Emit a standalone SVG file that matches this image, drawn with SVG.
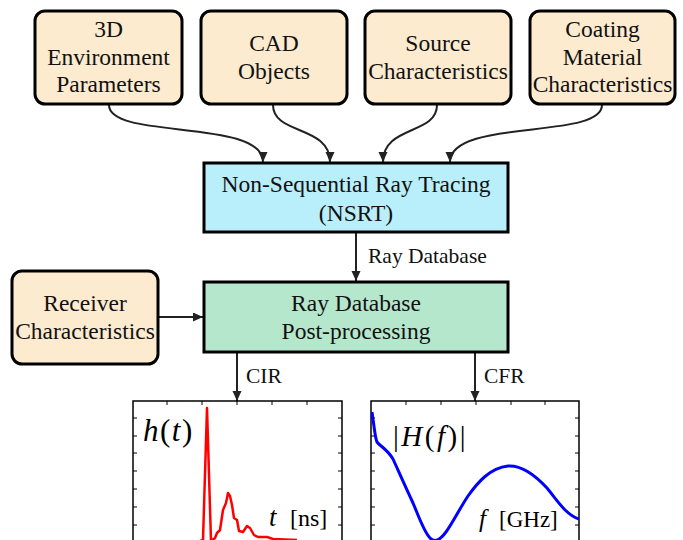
<svg xmlns="http://www.w3.org/2000/svg" width="683" height="540" viewBox="0 0 683 540">
<defs>
<style>
.in{fill:#fdebd0;stroke:#000;stroke-width:3}
.nsrt{fill:#b9eefb;stroke:#000;stroke-width:3}
.post{fill:#b5e7cd;stroke:#000;stroke-width:3}
.t{font-family:"Liberation Serif","Times New Roman",serif;font-size:23.5px;fill:#111;text-anchor:middle}
.lbl{font-family:"Liberation Serif","Times New Roman",serif;font-size:21.5px;fill:#111}
.con{fill:none;stroke:#222;stroke-width:2}
.frame{fill:none;stroke:#000;stroke-width:1.5}
.tick{stroke:#000;stroke-width:1}
.math{font-family:"Liberation Serif","Times New Roman",serif;fill:#000}
</style>
<marker id="ah" markerUnits="userSpaceOnUse" markerWidth="10" markerHeight="10" refX="10" refY="4.5" orient="auto">
<path d="M0,0 L10,4.5 L0,9 z" fill="#222"/>
</marker>
<clipPath id="c1"><rect x="133" y="401" width="209" height="139"/></clipPath>
<clipPath id="c2"><rect x="371" y="401" width="208" height="139"/></clipPath>
</defs>
<rect width="683" height="540" fill="#fff"/>

<g id="connectors">
<path class="con" d="M109,105 C109,140 263,118 263,162" marker-end="url(#ah)"/>
<path class="con" d="M273,105 C273,135 330,125 330,162" marker-end="url(#ah)"/>
<path class="con" d="M437,105 C437,135 383,125 383,162" marker-end="url(#ah)"/>
<path class="con" d="M602,105 C602,140 450,118 450,162" marker-end="url(#ah)"/>
<path class="con" d="M356,233 L356,281" marker-end="url(#ah)"/>
<path class="con" d="M158,317 L203,317" marker-end="url(#ah)"/>
<path class="con" d="M237,353 L237,401" marker-end="url(#ah)"/>
<path class="con" d="M475,353 L475,401" marker-end="url(#ah)"/>
<text class="lbl" x="368" y="263">Ray Database</text>
<text class="lbl" x="246" y="383">CIR</text>
<text class="lbl" x="484" y="383">CFR</text>
</g>

<g id="env">
<rect class="in" x="35" y="11" width="147" height="93" rx="10"/>
<text class="t" x="108.5" y="37">3D</text>
<text class="t" x="108.5" y="65">Environment</text>
<text class="t" x="108.5" y="92">Parameters</text>
</g>
<g id="cad">
<rect class="in" x="201" y="11" width="146" height="93" rx="10"/>
<text class="t" x="274" y="51">CAD</text>
<text class="t" x="274" y="79">Objects</text>
</g>
<g id="source">
<rect class="in" x="365" y="11" width="146" height="93" rx="10"/>
<text class="t" x="438" y="51">Source</text>
<text class="t" x="438" y="79">Characteristics</text>
</g>
<g id="coating">
<rect class="in" x="530" y="11" width="145" height="93" rx="10"/>
<text class="t" x="602.5" y="37">Coating</text>
<text class="t" x="602.5" y="65">Material</text>
<text class="t" x="602.5" y="92">Characteristics</text>
</g>
<g id="nsrt">
<rect class="nsrt" x="204" y="163" width="304" height="69"/>
<text class="t" x="356" y="192">Non-Sequential Ray Tracing</text>
<text class="t" x="356" y="221">(NSRT)</text>
</g>
<g id="receiver">
<rect class="in" x="12" y="271" width="146" height="93" rx="10"/>
<text class="t" x="85" y="311">Receiver</text>
<text class="t" x="85" y="339">Characteristics</text>
</g>
<g id="post">
<rect class="post" x="204" y="282" width="304" height="70"/>
<text class="t" x="356" y="311">Ray Database</text>
<text class="t" x="356" y="339">Post-processing</text>
</g>

<g id="cir-plot">
<path class="frame" d="M133,541 L133,401 L342,401 L342,541"/>
<path class="tick" d="M167,401v4M202,401v4M237,401v4M272,401v4M307,401v4
M133,418h4M133,436h4M133,453h4M133,471h4M133,489h4M133,507h4M133,525h4
M342,418h-4M342,436h-4M342,453h-4M342,471h-4M342,489h-4M342,507h-4M342,525h-4"/>
<g clip-path="url(#c1)">
<polyline fill="none" stroke="#ff0000" stroke-width="2.5" stroke-linejoin="round" points="200,541 203,540 207,408 211,541 215,538 217,533 220,530 223,510 226,503 228,493 230,496 232,505 234,518 237,520 239,531 243,532 247,526 250,528 254,535 258,537 267,537 273,539 297,540"/>
</g>
<text class="math" x="143" y="441" font-size="31" letter-spacing="1.5"><tspan font-style="italic">h</tspan>(<tspan font-style="italic">t</tspan>)</text>
<text class="math" x="269" y="526" font-size="27" font-style="italic">t</text>
<text class="math" x="290" y="526" font-size="24">[ns]</text>
</g>

<g id="cfr-plot">
<path class="frame" d="M371,541 L371,401 L579,401 L579,541"/>
<path class="tick" d="M406,401v4M441,401v4M476,401v4M511,401v4M545,401v4
M371,418h4M371,436h4M371,453h4M371,471h4M371,489h4M371,507h4M371,525h4
M579,418h-4M579,436h-4M579,453h-4M579,471h-4M579,489h-4M579,507h-4M579,525h-4"/>
<g clip-path="url(#c2)">
<path fill="none" stroke="#0000ff" stroke-width="3" stroke-linejoin="round" d="M372,412 C374,425 375,438 377,442 C380,446 387,449 393,459 C398,470 406,488 413,503 C419,517 424,532 430,538 C435,543 440,540 446,532 C452,524 460,508 468,496 C478,482 490,468 508,466 C522,465 535,475 547,488 C557,500 566,515 579,519"/>
</g>
<text class="math" x="393" y="446" font-size="29" letter-spacing="2.5">|<tspan font-style="italic">H</tspan>(<tspan font-style="italic">f</tspan>)|</text>
<text class="math" x="479" y="527" font-size="25" font-style="italic">f</text>
<text class="math" x="499" y="527" font-size="23">[GHz]</text>
</g>
</svg>
